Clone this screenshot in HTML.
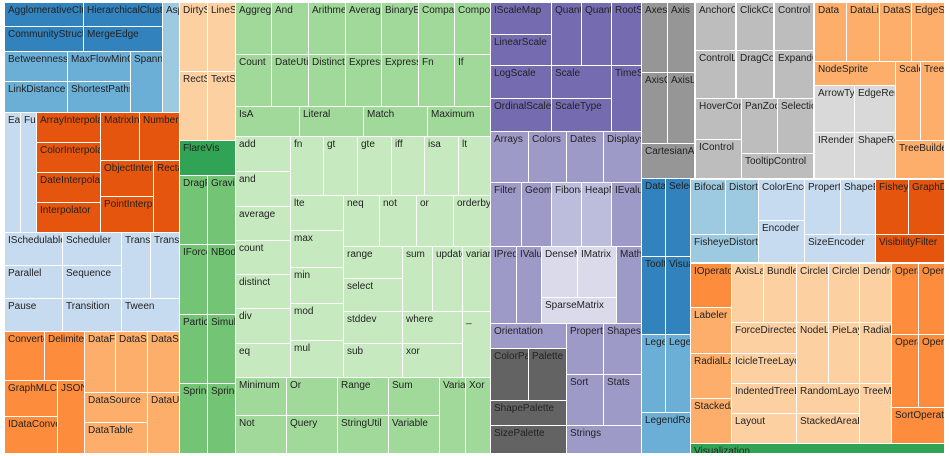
<!DOCTYPE html>
<html><head><meta charset="utf-8"><style>
body{margin:0;background:#fff;width:950px;height:456px;overflow:hidden;position:relative;font-family:"Liberation Sans",Arial,sans-serif}
div{position:absolute;box-sizing:border-box;overflow:hidden;white-space:nowrap;font-size:10px;line-height:12px;padding:2px 0 0 3px;color:#222}
.A{background:#3182bd}.B{background:#6baed6}.C{background:#9ecae1}.D{background:#c6dbef}
.E{background:#e6550d}.F{background:#fd8d3c}.G{background:#fdae6b}.H{background:#fdd0a2}
.I{background:#31a354}.J{background:#74c476}.K{background:#a1d99b}.L{background:#c7e9c0}
.M{background:#756bb1}.N{background:#9e9ac8}.O{background:#bcbddc}.P{background:#dadaeb}
.Q{background:#636363}.R{background:#969696}.S{background:#bdbdbd}.T{background:#d9d9d9}
</style></head><body>
<div class="A" style="left:5px;top:3px;width:78px;height:23px">AgglomerativeCluster</div>
<div class="A" style="left:84px;top:3px;width:78px;height:23px">HierarchicalCluster</div>
<div class="C" style="left:163px;top:3px;width:16px;height:109px">AspectRatioBanker</div>
<div class="A" style="left:5px;top:27px;width:78px;height:24px">CommunityStructure</div>
<div class="A" style="left:84px;top:27px;width:78px;height:24px">MergeEdge</div>
<div class="B" style="left:5px;top:52px;width:62px;height:29px">BetweennessCentrality</div>
<div class="B" style="left:68px;top:52px;width:62px;height:29px">MaxFlowMinCut</div>
<div class="B" style="left:131px;top:52px;width:31px;height:60px">SpanningTree</div>
<div class="B" style="left:5px;top:82px;width:62px;height:30px">LinkDistance</div>
<div class="B" style="left:68px;top:82px;width:62px;height:30px">ShortestPaths</div>
<div class="D" style="left:5px;top:113px;width:15px;height:119px">Easing</div>
<div class="D" style="left:21px;top:113px;width:15px;height:119px">FunctionSequence</div>
<div class="E" style="left:37px;top:113px;width:63px;height:29px">ArrayInterpolator</div>
<div class="E" style="left:37px;top:143px;width:63px;height:29px">ColorInterpolator</div>
<div class="E" style="left:37px;top:173px;width:63px;height:29px">DateInterpolator</div>
<div class="E" style="left:37px;top:203px;width:63px;height:29px">Interpolator</div>
<div class="E" style="left:101px;top:113px;width:38px;height:47px">MatrixInterpolator</div>
<div class="E" style="left:140px;top:113px;width:39px;height:47px">NumberInterpolator</div>
<div class="E" style="left:101px;top:161px;width:52px;height:35px">ObjectInterpolator</div>
<div class="E" style="left:101px;top:197px;width:52px;height:35px">PointInterpolator</div>
<div class="E" style="left:154px;top:161px;width:25px;height:71px">RectangleInterpolator</div>
<div class="D" style="left:5px;top:233px;width:57px;height:32px">ISchedulable</div>
<div class="D" style="left:63px;top:233px;width:58px;height:32px">Scheduler</div>
<div class="D" style="left:122px;top:233px;width:28px;height:65px">Transitioner</div>
<div class="D" style="left:151px;top:233px;width:28px;height:65px">TransitionEvent</div>
<div class="D" style="left:5px;top:266px;width:57px;height:32px">Parallel</div>
<div class="D" style="left:63px;top:266px;width:58px;height:32px">Sequence</div>
<div class="D" style="left:5px;top:299px;width:57px;height:32px">Pause</div>
<div class="D" style="left:63px;top:299px;width:58px;height:32px">Transition</div>
<div class="D" style="left:122px;top:299px;width:57px;height:32px">Tween</div>
<div class="F" style="left:5px;top:332px;width:39px;height:48px">Converters</div>
<div class="F" style="left:45px;top:332px;width:39px;height:48px">DelimitedTextConverter</div>
<div class="F" style="left:5px;top:381px;width:52px;height:35px">GraphMLConverter</div>
<div class="F" style="left:5px;top:417px;width:52px;height:36px">IDataConverter</div>
<div class="F" style="left:58px;top:381px;width:26px;height:72px">JSONConverter</div>
<div class="G" style="left:85px;top:332px;width:30px;height:60px">DataField</div>
<div class="G" style="left:116px;top:332px;width:31px;height:60px">DataSchema</div>
<div class="G" style="left:148px;top:332px;width:31px;height:60px">DataSet</div>
<div class="G" style="left:85px;top:393px;width:62px;height:29px">DataSource</div>
<div class="G" style="left:85px;top:423px;width:62px;height:30px">DataTable</div>
<div class="G" style="left:148px;top:393px;width:31px;height:60px">DataUtil</div>
<div class="H" style="left:180px;top:3px;width:27px;height:68px">DirtySprite</div>
<div class="H" style="left:208px;top:3px;width:27px;height:68px">LineSprite</div>
<div class="H" style="left:180px;top:72px;width:27px;height:68px">RectSprite</div>
<div class="H" style="left:208px;top:72px;width:27px;height:68px">TextSprite</div>
<div class="I" style="left:180px;top:141px;width:55px;height:34px">FlareVis</div>
<div class="J" style="left:180px;top:176px;width:27px;height:68px">DragForce</div>
<div class="J" style="left:208px;top:176px;width:27px;height:68px">GravityForce</div>
<div class="J" style="left:180px;top:245px;width:27px;height:69px">IForce</div>
<div class="J" style="left:208px;top:245px;width:27px;height:69px">NBodyForce</div>
<div class="J" style="left:180px;top:315px;width:27px;height:68px">Particle</div>
<div class="J" style="left:208px;top:315px;width:27px;height:68px">Simulation</div>
<div class="J" style="left:180px;top:384px;width:27px;height:69px">Spring</div>
<div class="J" style="left:208px;top:384px;width:27px;height:69px">SpringForce</div>
<div class="K" style="left:236px;top:3px;width:35px;height:51px">AggregateExpression</div>
<div class="K" style="left:272px;top:3px;width:36px;height:51px">And</div>
<div class="K" style="left:309px;top:3px;width:36px;height:51px">Arithmetic</div>
<div class="K" style="left:346px;top:3px;width:35px;height:51px">Average</div>
<div class="K" style="left:382px;top:3px;width:36px;height:51px">BinaryExpression</div>
<div class="K" style="left:419px;top:3px;width:35px;height:51px">Comparison</div>
<div class="K" style="left:455px;top:3px;width:35px;height:51px">CompositeExpression</div>
<div class="K" style="left:236px;top:55px;width:35px;height:51px">Count</div>
<div class="K" style="left:272px;top:55px;width:36px;height:51px">DateUtil</div>
<div class="K" style="left:309px;top:55px;width:36px;height:51px">Distinct</div>
<div class="K" style="left:346px;top:55px;width:35px;height:51px">Expression</div>
<div class="K" style="left:382px;top:55px;width:36px;height:51px">ExpressionIterator</div>
<div class="K" style="left:419px;top:55px;width:35px;height:51px">Fn</div>
<div class="K" style="left:455px;top:55px;width:35px;height:51px">If</div>
<div class="K" style="left:236px;top:107px;width:63px;height:29px">IsA</div>
<div class="K" style="left:300px;top:107px;width:63px;height:29px">Literal</div>
<div class="K" style="left:364px;top:107px;width:63px;height:29px">Match</div>
<div class="K" style="left:428px;top:107px;width:62px;height:29px">Maximum</div>
<div class="L" style="left:236px;top:137px;width:54px;height:34px">add</div>
<div class="L" style="left:236px;top:172px;width:54px;height:34px">and</div>
<div class="L" style="left:236px;top:207px;width:54px;height:33px">average</div>
<div class="L" style="left:236px;top:241px;width:54px;height:33px">count</div>
<div class="L" style="left:236px;top:275px;width:54px;height:33px">distinct</div>
<div class="L" style="left:236px;top:309px;width:54px;height:34px">div</div>
<div class="L" style="left:236px;top:344px;width:54px;height:33px">eq</div>
<div class="L" style="left:291px;top:137px;width:32px;height:58px">fn</div>
<div class="L" style="left:324px;top:137px;width:33px;height:58px">gt</div>
<div class="L" style="left:358px;top:137px;width:33px;height:58px">gte</div>
<div class="L" style="left:392px;top:137px;width:32px;height:58px">iff</div>
<div class="L" style="left:425px;top:137px;width:33px;height:58px">isa</div>
<div class="L" style="left:459px;top:137px;width:31px;height:58px">lt</div>
<div class="L" style="left:291px;top:196px;width:52px;height:34px">lte</div>
<div class="L" style="left:291px;top:231px;width:52px;height:36px">max</div>
<div class="L" style="left:291px;top:268px;width:52px;height:35px">min</div>
<div class="L" style="left:291px;top:304px;width:52px;height:36px">mod</div>
<div class="L" style="left:291px;top:341px;width:52px;height:36px">mul</div>
<div class="L" style="left:344px;top:196px;width:35px;height:50px">neq</div>
<div class="L" style="left:380px;top:196px;width:36px;height:50px">not</div>
<div class="L" style="left:417px;top:196px;width:36px;height:50px">or</div>
<div class="L" style="left:454px;top:196px;width:36px;height:50px">orderby</div>
<div class="L" style="left:344px;top:247px;width:58px;height:31px">range</div>
<div class="L" style="left:344px;top:279px;width:58px;height:32px">select</div>
<div class="L" style="left:344px;top:312px;width:58px;height:31px">stddev</div>
<div class="L" style="left:344px;top:344px;width:58px;height:33px">sub</div>
<div class="L" style="left:403px;top:247px;width:29px;height:64px">sum</div>
<div class="L" style="left:433px;top:247px;width:29px;height:64px">update</div>
<div class="L" style="left:463px;top:247px;width:27px;height:64px">variance</div>
<div class="L" style="left:403px;top:312px;width:59px;height:31px">where</div>
<div class="L" style="left:403px;top:344px;width:59px;height:33px">xor</div>
<div class="L" style="left:463px;top:312px;width:27px;height:65px">_</div>
<div class="K" style="left:236px;top:378px;width:50px;height:37px">Minimum</div>
<div class="K" style="left:287px;top:378px;width:50px;height:37px">Or</div>
<div class="K" style="left:338px;top:378px;width:50px;height:37px">Range</div>
<div class="K" style="left:389px;top:378px;width:50px;height:37px">Sum</div>
<div class="K" style="left:236px;top:416px;width:50px;height:37px">Not</div>
<div class="K" style="left:287px;top:416px;width:50px;height:37px">Query</div>
<div class="K" style="left:338px;top:416px;width:50px;height:37px">StringUtil</div>
<div class="K" style="left:389px;top:416px;width:50px;height:37px">Variable</div>
<div class="K" style="left:440px;top:378px;width:25px;height:75px">Variance</div>
<div class="K" style="left:466px;top:378px;width:24px;height:75px">Xor</div>
<div class="M" style="left:491px;top:3px;width:60px;height:31px">IScaleMap</div>
<div class="M" style="left:491px;top:35px;width:60px;height:30px">LinearScale</div>
<div class="M" style="left:552px;top:3px;width:29px;height:62px">QuantileScale</div>
<div class="M" style="left:582px;top:3px;width:29px;height:62px">QuantitativeScale</div>
<div class="M" style="left:612px;top:3px;width:29px;height:62px">RootScale</div>
<div class="M" style="left:491px;top:66px;width:60px;height:32px">LogScale</div>
<div class="M" style="left:552px;top:66px;width:59px;height:32px">Scale</div>
<div class="M" style="left:612px;top:66px;width:29px;height:65px">TimeScale</div>
<div class="M" style="left:491px;top:99px;width:60px;height:32px">OrdinalScale</div>
<div class="M" style="left:552px;top:99px;width:59px;height:32px">ScaleType</div>
<div class="N" style="left:491px;top:132px;width:37px;height:50px">Arrays</div>
<div class="N" style="left:529px;top:132px;width:37px;height:50px">Colors</div>
<div class="N" style="left:567px;top:132px;width:36px;height:50px">Dates</div>
<div class="N" style="left:604px;top:132px;width:37px;height:50px">Displays</div>
<div class="N" style="left:491px;top:183px;width:30px;height:63px">Filter</div>
<div class="N" style="left:522px;top:183px;width:29px;height:63px">Geometry</div>
<div class="O" style="left:552px;top:183px;width:29px;height:63px">Fibonacci</div>
<div class="O" style="left:582px;top:183px;width:29px;height:63px">HeapNode</div>
<div class="N" style="left:612px;top:183px;width:29px;height:63px">IEvaluable</div>
<div class="N" style="left:491px;top:247px;width:25px;height:76px">IPredicate</div>
<div class="N" style="left:517px;top:247px;width:24px;height:76px">IValueProxy</div>
<div class="P" style="left:542px;top:247px;width:35px;height:50px">DenseMatrix</div>
<div class="P" style="left:578px;top:247px;width:38px;height:50px">IMatrix</div>
<div class="P" style="left:542px;top:298px;width:74px;height:25px">SparseMatrix</div>
<div class="N" style="left:617px;top:247px;width:24px;height:76px">Maths</div>
<div class="N" style="left:491px;top:324px;width:75px;height:24px">Orientation</div>
<div class="N" style="left:567px;top:324px;width:36px;height:50px">Property</div>
<div class="N" style="left:604px;top:324px;width:37px;height:50px">Shapes</div>
<div class="N" style="left:567px;top:375px;width:36px;height:50px">Sort</div>
<div class="N" style="left:604px;top:375px;width:37px;height:50px">Stats</div>
<div class="N" style="left:567px;top:426px;width:74px;height:27px">Strings</div>
<div class="Q" style="left:491px;top:349px;width:37px;height:51px">ColorPalette</div>
<div class="Q" style="left:529px;top:349px;width:37px;height:51px">Palette</div>
<div class="Q" style="left:491px;top:401px;width:75px;height:24px">ShapePalette</div>
<div class="Q" style="left:491px;top:426px;width:75px;height:27px">SizePalette</div>
<div class="R" style="left:642px;top:3px;width:25px;height:69px">Axes</div>
<div class="R" style="left:668px;top:3px;width:26px;height:69px">Axis</div>
<div class="R" style="left:642px;top:73px;width:25px;height:70px">AxisGridLayer</div>
<div class="R" style="left:668px;top:73px;width:26px;height:70px">AxisLabel</div>
<div class="R" style="left:642px;top:144px;width:52px;height:34px">CartesianAxes</div>
<div class="A" style="left:642px;top:179px;width:23px;height:77px">DataEvent</div>
<div class="A" style="left:666px;top:179px;width:24px;height:77px">SelectionEvent</div>
<div class="A" style="left:642px;top:257px;width:23px;height:77px">TooltipEvent</div>
<div class="A" style="left:666px;top:257px;width:24px;height:77px">VisualizationEvent</div>
<div class="B" style="left:642px;top:335px;width:23px;height:77px">Legend</div>
<div class="B" style="left:666px;top:335px;width:24px;height:77px">LegendItem</div>
<div class="B" style="left:642px;top:413px;width:48px;height:40px">LegendRange</div>
<div class="S" style="left:696px;top:3px;width:39px;height:47px">AnchorControl</div>
<div class="S" style="left:737px;top:3px;width:36px;height:47px">ClickControl</div>
<div class="S" style="left:775px;top:3px;width:38px;height:47px">Control</div>
<div class="S" style="left:696px;top:51px;width:39px;height:47px">ControlList</div>
<div class="S" style="left:737px;top:51px;width:36px;height:47px">DragControl</div>
<div class="S" style="left:775px;top:51px;width:38px;height:47px">ExpandControl</div>
<div class="S" style="left:696px;top:99px;width:45px;height:40px">HoverControl</div>
<div class="S" style="left:696px;top:140px;width:45px;height:38px">IControl</div>
<div class="S" style="left:742px;top:99px;width:35px;height:54px">PanZoomControl</div>
<div class="S" style="left:778px;top:99px;width:35px;height:54px">SelectionControl</div>
<div class="S" style="left:742px;top:154px;width:71px;height:24px">TooltipControl</div>
<div class="G" style="left:815px;top:3px;width:31px;height:58px">Data</div>
<div class="G" style="left:847px;top:3px;width:32px;height:58px">DataList</div>
<div class="G" style="left:880px;top:3px;width:31px;height:58px">DataSprite</div>
<div class="G" style="left:912px;top:3px;width:32px;height:58px">EdgeSprite</div>
<div class="G" style="left:815px;top:62px;width:80px;height:23px">NodeSprite</div>
<div class="G" style="left:896px;top:62px;width:24px;height:78px">ScaleBinding</div>
<div class="G" style="left:921px;top:62px;width:23px;height:78px">Tree</div>
<div class="G" style="left:896px;top:141px;width:48px;height:37px">TreeBuilder</div>
<div class="T" style="left:815px;top:86px;width:39px;height:46px">ArrowType</div>
<div class="T" style="left:855px;top:86px;width:40px;height:46px">EdgeRenderer</div>
<div class="T" style="left:815px;top:133px;width:39px;height:45px">IRenderer</div>
<div class="T" style="left:855px;top:133px;width:40px;height:45px">ShapeRenderer</div>
<div class="C" style="left:691px;top:180px;width:34px;height:54px">BifocalDistortion</div>
<div class="C" style="left:726px;top:180px;width:32px;height:54px">Distortion</div>
<div class="C" style="left:691px;top:235px;width:67px;height:27px">FisheyeDistortion</div>
<div class="D" style="left:759px;top:180px;width:45px;height:40px">ColorEncoder</div>
<div class="D" style="left:759px;top:221px;width:45px;height:41px">Encoder</div>
<div class="D" style="left:805px;top:180px;width:35px;height:54px">PropertyEncoder</div>
<div class="D" style="left:841px;top:180px;width:34px;height:54px">ShapeEncoder</div>
<div class="D" style="left:805px;top:235px;width:70px;height:27px">SizeEncoder</div>
<div class="E" style="left:876px;top:180px;width:32px;height:54px">FisheyeTreeFilter</div>
<div class="E" style="left:909px;top:180px;width:35px;height:54px">GraphDistanceFilter</div>
<div class="E" style="left:876px;top:235px;width:68px;height:27px">VisibilityFilter</div>
<div class="F" style="left:691px;top:264px;width:40px;height:43px">IOperator</div>
<div class="G" style="left:691px;top:308px;width:40px;height:45px">Labeler</div>
<div class="G" style="left:691px;top:354px;width:40px;height:44px">RadialLabeler</div>
<div class="G" style="left:691px;top:399px;width:40px;height:44px">StackedAreaLabeler</div>
<div class="H" style="left:732px;top:264px;width:31px;height:58px">AxisLayout</div>
<div class="H" style="left:764px;top:264px;width:32px;height:58px">BundledEdgeRouter</div>
<div class="H" style="left:797px;top:264px;width:31px;height:58px">CircleLayout</div>
<div class="H" style="left:829px;top:264px;width:30px;height:58px">CirclePackingLayout</div>
<div class="H" style="left:860px;top:264px;width:31px;height:58px">DendrogramLayout</div>
<div class="H" style="left:732px;top:323px;width:64px;height:30px">ForceDirectedLayout</div>
<div class="H" style="left:732px;top:354px;width:64px;height:29px">IcicleTreeLayout</div>
<div class="H" style="left:732px;top:384px;width:64px;height:29px">IndentedTreeLayout</div>
<div class="H" style="left:732px;top:414px;width:64px;height:29px">Layout</div>
<div class="H" style="left:797px;top:323px;width:31px;height:60px">NodeLinkTreeLayout</div>
<div class="H" style="left:829px;top:323px;width:30px;height:60px">PieLayout</div>
<div class="H" style="left:860px;top:323px;width:31px;height:60px">RadialTreeLayout</div>
<div class="H" style="left:797px;top:384px;width:62px;height:29px">RandomLayout</div>
<div class="H" style="left:797px;top:414px;width:62px;height:29px">StackedAreaLayout</div>
<div class="H" style="left:860px;top:384px;width:31px;height:59px">TreeMapLayout</div>
<div class="F" style="left:892px;top:264px;width:26px;height:70px">Operator</div>
<div class="F" style="left:919px;top:264px;width:25px;height:70px">OperatorList</div>
<div class="F" style="left:892px;top:335px;width:26px;height:72px">OperatorSequence</div>
<div class="F" style="left:919px;top:335px;width:25px;height:72px">OperatorSwitch</div>
<div class="F" style="left:892px;top:408px;width:52px;height:35px">SortOperator</div>
<div class="I" style="left:691px;top:444px;width:253px;height:9px">Visualization</div>
</body></html>
